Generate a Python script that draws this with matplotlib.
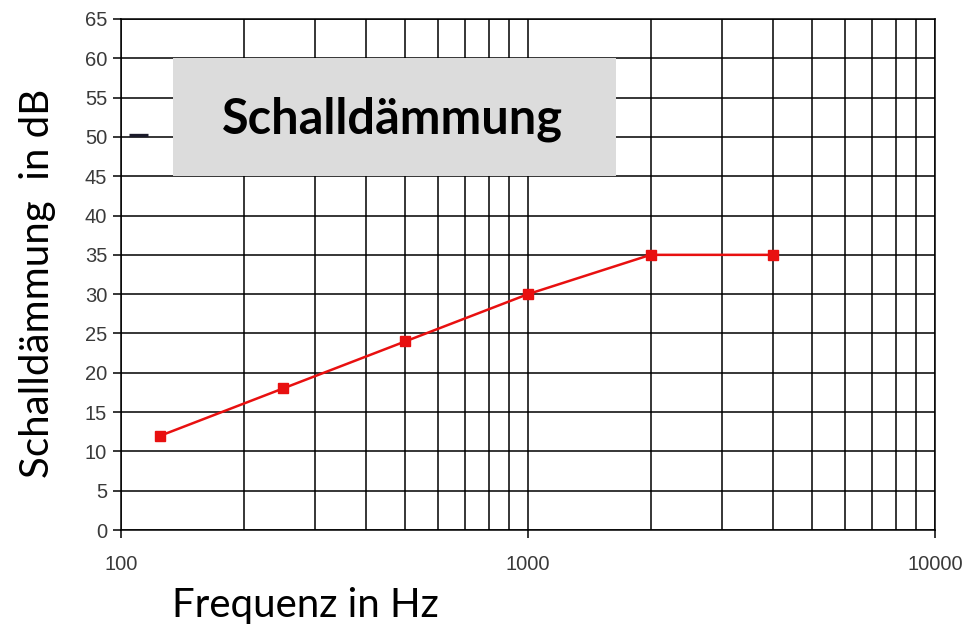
import matplotlib
matplotlib.use("Agg")
import matplotlib.pyplot as plt
from matplotlib.ticker import FixedLocator, NullFormatter, FixedFormatter

freq = [125, 250, 500, 1000, 2000, 4000]
dammung = [12, 18, 24, 30, 35, 35]
x_ticks = [100, 1000, 10000]
x_tick_labels = ["100", "1000", "10000"]
y_ticks = list(range(0, 66, 5))
title = "Schalldämmung"

fig = plt.figure(figsize=(9.72, 6.27), dpi=100)
ax = fig.add_axes([121/972, 1-530/627, (935-121)/972, (530-19)/627])

ax.set_xscale("log")
ax.set_xlim(100, 10000)
ax.set_ylim(0, 65)
ax.xaxis.set_major_locator(FixedLocator(x_ticks))
ax.xaxis.set_major_formatter(FixedFormatter(x_tick_labels))
minors = [m * d for d in (100, 1000) for m in range(2, 10)]
ax.xaxis.set_minor_locator(FixedLocator(minors))
ax.xaxis.set_minor_formatter(NullFormatter())
ax.set_yticks(y_ticks)

ax.grid(True, which="both", axis="x", color="black", linewidth=1.1)
ax.grid(True, which="major", axis="y", color="black", linewidth=1.1)
ax.set_axisbelow(True)
for s in ax.spines.values():
    s.set_color("black")
    s.set_linewidth(1.1)

ax.tick_params(axis="y", which="major", length=6, width=1.1, color="black",
               labelsize=14.5, labelcolor="#3a3a3a", pad=4)
ax.tick_params(axis="x", which="major", length=6, width=1.1, color="black",
               labelsize=14.5, labelcolor="#3a3a3a", pad=12)
ax.tick_params(axis="x", which="minor", length=0)
for lab in ax.get_xticklabels() + ax.get_yticklabels():
    lab.set_family("Liberation Sans")

ax.plot(freq, dammung, color="#e81010", linewidth=1.8, marker="s",
        markersize=7, zorder=5)

# title box
x0, x1 = 134, 1644
ax.fill_between([x0, x1], 45, 60, color="#dcdcdc", zorder=3, linewidth=0)
ax.text(464, 52.3, title, ha="center", va="center",
        fontsize=35, fontweight="bold", family="Lato", color="black", zorder=4)
# legend remnant
ax.plot([104.6, 116.5], [50.2, 50.2], color="#1a1a2a", linewidth=2.4, zorder=4,
        solid_capstyle="butt")

fig.text(305/972, 1-605/627, "Frequenz in Hz", ha="center", va="center",
         fontsize=29, family="Lato", color="black")
fig.text(38/972, 1-283/627, "Schalldämmung  in dB", ha="center", va="center",
         rotation=90, fontsize=29, family="Lato", color="black")

fig.savefig("out.png", dpi=100)
